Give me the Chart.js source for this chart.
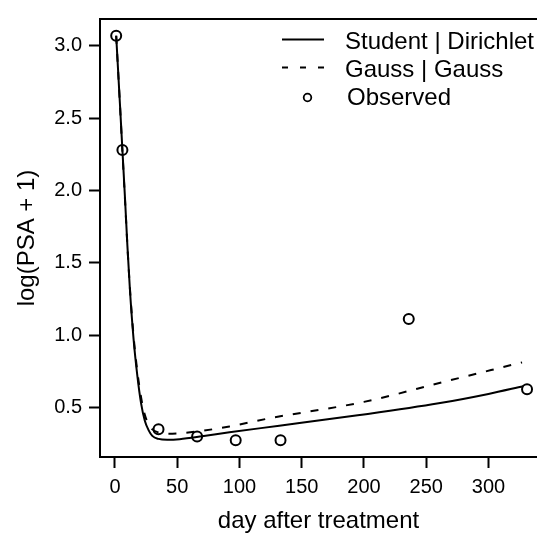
<!DOCTYPE html>
<html>
<head>
<meta charset="utf-8">
<title>log(PSA + 1)</title>
<script src="https://cdn.jsdelivr.net/npm/chart.js@4"></script>
<style>
	html, body { margin: 0; padding: 0; background: #fff; overflow: hidden; }
</style>
</head>
<body>
<canvas id="chart" width="537" height="533"></canvas>
<script>
// observed values
const obsDays = [1, 6, 35, 66, 97, 133, 236, 331];
const obsValues = [3.07, 2.28, 0.35, 0.30, 0.275, 0.275, 1.113, 0.628];

// fitted curve: Student | Dirichlet
const studentDays = [1, 4, 6, 8, 10, 12, 15, 18, 21, 24, 27, 30, 35, 42, 52, 70, 92, 132, 195, 260, 300, 328];
const studentValues = [3.07, 2.6, 2.28, 1.96, 1.62, 1.32, 0.97, 0.72, 0.53, 0.41, 0.345, 0.305, 0.284, 0.278, 0.282, 0.302, 0.33, 0.375, 0.447, 0.53, 0.595, 0.648];

// fitted curve: Gauss | Gauss
const gaussDays = [1, 4, 6, 8, 10, 12, 15, 18, 21, 24, 27, 30, 35, 42, 52, 70, 92, 125, 200, 265, 327];
const gaussValues = [3.07, 2.6, 2.27, 1.95, 1.62, 1.33, 0.99, 0.75, 0.57, 0.45, 0.385, 0.35, 0.328, 0.32, 0.323, 0.34, 0.37, 0.428, 0.54, 0.68, 0.813];

const xTicks = [0, 50, 100, 150, 200, 250, 300];
const yTicks = [0.5, 1.0, 1.5, 2.0, 2.5, 3.0];

const FONT = '"Liberation Sans", Arial, sans-serif';

function toPoints(xs, ys) {
	return xs.map((x, i) => ({ x: x, y: ys[i] }));
}

// R style box (cut off on the right, as in the original) + legend
const boxAndLegend = {
	id: "boxAndLegend",
	afterDraw(chart) {
		const ctx = chart.ctx;
		const a = chart.chartArea;
		ctx.save();
		ctx.strokeStyle = "#000";
		ctx.lineWidth = 2;
		ctx.beginPath();
		ctx.moveTo(a.right + 5, a.top);
		ctx.lineTo(a.left, a.top);
		ctx.lineTo(a.left, a.bottom);
		ctx.lineTo(a.right + 5, a.bottom);
		ctx.stroke();

		ctx.font = "24px " + FONT;
		ctx.fillStyle = "#000";
		ctx.textBaseline = "alphabetic";
		ctx.textAlign = "left";

		// solid
		ctx.beginPath();
		ctx.moveTo(282, 39.5);
		ctx.lineTo(324, 39.5);
		ctx.stroke();
		ctx.fillText(chart.data.datasets[0].label, 345, 48.5);

		// dashed
		ctx.setLineDash([6, 12]);
		ctx.beginPath();
		ctx.moveTo(282, 67.5);
		ctx.lineTo(324, 67.5);
		ctx.stroke();
		ctx.setLineDash([]);
		ctx.fillText(chart.data.datasets[1].label, 345, 76.5);

		// circle
		ctx.lineWidth = 1.8;
		ctx.beginPath();
		ctx.arc(307.5, 97.5, 3.8, 0, Math.PI * 2);
		ctx.stroke();
		ctx.fillText(chart.data.datasets[2].label, 347, 104.5);
		ctx.restore();
	}
};

new Chart(document.getElementById("chart"), {
	type: "scatter",
	data: {
		datasets: [
			{
				label: "Student | Dirichlet",
				data: toPoints(studentDays, studentValues),
				showLine: true,
				borderColor: "#000",
				borderWidth: 2,
				pointRadius: 0,
				cubicInterpolationMode: "monotone",
				order: 2
			},
			{
				label: "Gauss | Gauss",
				data: toPoints(gaussDays, gaussValues),
				showLine: true,
				borderColor: "#000",
				borderWidth: 2,
				borderDash: [8, 10],
				pointRadius: 0,
				cubicInterpolationMode: "monotone",
				order: 2
			},
			{
				label: "Observed",
				data: toPoints(obsDays, obsValues),
				showLine: false,
				pointRadius: 5,
				pointBorderWidth: 2,
				pointBorderColor: "#000",
				pointBackgroundColor: "rgba(0,0,0,0)",
				clip: false,
				order: 1
			}
		]
	},
	options: {
		responsive: false,
		animation: false,
		devicePixelRatio: 1,
		layout: { autoPadding: false, padding: { top: 12, right: 0, bottom: 0, left: 0 } },
		plugins: {
			legend: { display: false },
			tooltip: { enabled: false }
		},
		scales: {
			x: {
				type: "linear",
				min: -12,
				max: 339,
				afterBuildTicks: (s) => { s.ticks = xTicks.map((v) => ({ value: v })); },
				afterFit: (s) => { s.height = 76; },
				grid: {
					drawOnChartArea: false,
					drawTicks: true,
					tickLength: 11,
					tickWidth: 2,
					tickColor: "#000"
				},
				border: { display: false },
				ticks: {
					autoSkip: false,
					maxRotation: 0,
					padding: 7,
					color: "#000",
					font: { family: FONT, size: 20 }
				},
				title: {
					display: true,
					text: "day after treatment",
					color: "#000",
					font: { family: FONT, size: 24, lineHeight: 1 },
					padding: { top: 0, bottom: 0 }
				}
			},
			y: {
				type: "linear",
				min: 0.159,
				max: 3.186,
				afterBuildTicks: (s) => { s.ticks = yTicks.map((v) => ({ value: v })); },
				afterFit: (s) => { s.width = 100; },
				grid: {
					drawOnChartArea: false,
					drawTicks: true,
					tickLength: 11,
					tickWidth: 2,
					tickColor: "#000"
				},
				border: { display: false },
				ticks: {
					autoSkip: false,
					padding: 7,
					color: "#000",
					font: { family: FONT, size: 20 },
					callback: (v) => Number(v).toFixed(1)
				},
				title: {
					display: true,
					text: "log(PSA + 1)",
					color: "#000",
					font: { family: FONT, size: 24, lineHeight: 1 },
					padding: { top: 15, bottom: 0 }
				}
			}
		}
	},
	plugins: [boxAndLegend]
});
</script>
</body>
</html>
